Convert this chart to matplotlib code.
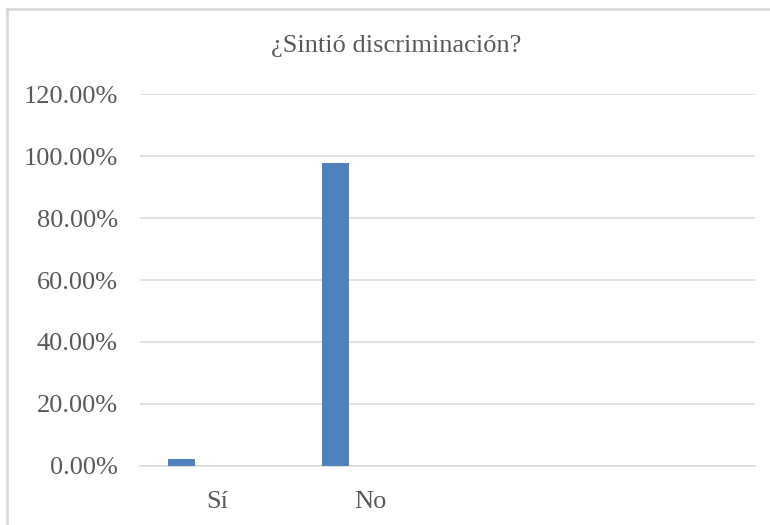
import matplotlib
matplotlib.use("Agg")
import matplotlib.pyplot as plt
from matplotlib.lines import Line2D
import numpy as np

# data
categories = ["Sí", "No", "", ""]
values = [2.4, 97.6, np.nan, np.nan]
y_ticks = [0, 20, 40, 60, 80, 100, 120]
title = "¿Sintió discriminación?"

W, H = 770, 525
plt.rcParams["font.family"] = ["Liberation Serif", "DejaVu Serif"]
text_color = "#595959"

fig = plt.figure(figsize=(W / 100, H / 100), dpi=100)
ax = fig.add_axes([140 / W, 1 - 466 / H, 615 / W, (466 - 94) / H])

x = np.arange(len(categories))
ax.bar(x - 0.23, values, width=0.175, color="#4F81BD", zorder=3)

ax.set_xlim(-0.5, len(categories) - 0.5)
ax.set_ylim(0, 120)
ax.set_yticks(y_ticks)
ax.set_yticklabels([f"{v:.2f}%" for v in y_ticks])
ax.set_xticks(x)
ax.set_xticklabels(categories)
ax.tick_params(axis="both", length=0, labelsize=19, colors=text_color)
ax.tick_params(axis="y", pad=16)
ax.tick_params(axis="x", pad=18)

ax.grid(axis="y", color="#d9d9d9", linewidth=1.1, zorder=0)
for side in ["top", "right", "left"]:
    ax.spines[side].set_visible(False)
ax.spines["bottom"].set_color("#d9d9d9")
ax.spines["bottom"].set_linewidth(1.1)

fig.text(396 / W, 1 - 46 / H, title, ha="center", va="center",
         fontsize=19, color=text_color)

# outer chart frame (only top and left edges visible)
fig.add_artist(Line2D([7 / W, 7 / W], [0, 1 - 9 / H], color="#d9d9d9", linewidth=2))
fig.add_artist(Line2D([7 / W, 1], [1 - 9 / H, 1 - 9 / H], color="#d9d9d9", linewidth=2))

fig.savefig("out.png", dpi=100)
